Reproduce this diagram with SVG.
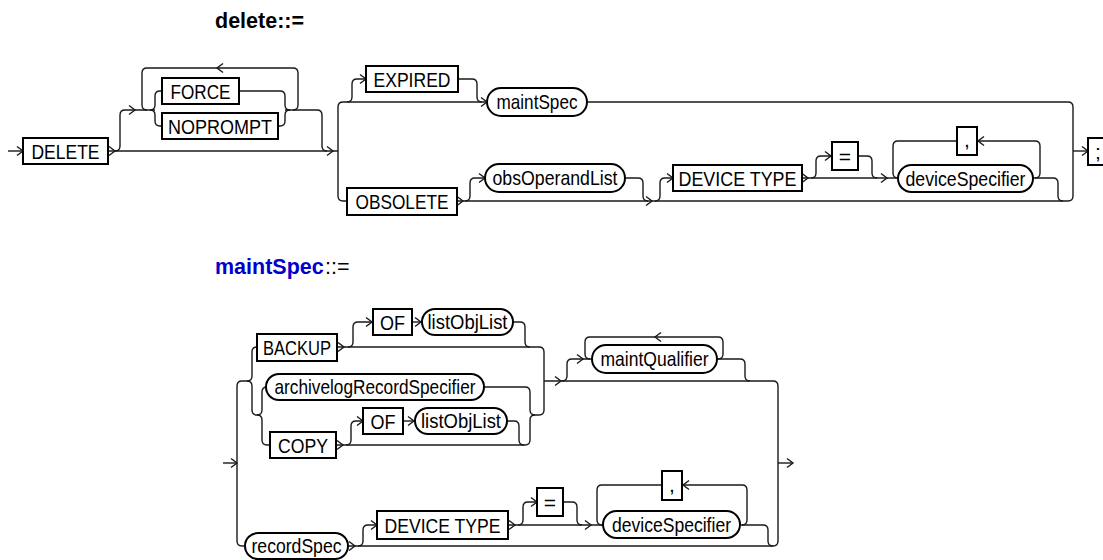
<svg xmlns="http://www.w3.org/2000/svg" width="1103" height="560" viewBox="0 0 1103 560">
<style>
.l{fill:none;stroke:#1a1a1a;stroke-width:1.4}
.b{fill:#fff;stroke:#000;stroke-width:2}
.t{font-family:"Liberation Sans",Arial,Helvetica,sans-serif;font-size:21px;fill:#000;text-anchor:middle}
.h{font-family:"Liberation Sans",Arial,Helvetica,sans-serif;font-size:21.5px;fill:#000}
</style>
<defs>
<path id="ar" d="M-6,-4.5 L0,0 L-6,4.5" fill="none" stroke="#1a1a1a" stroke-width="1.4"/>
<path id="al" d="M6,-4.5 L0,0 L6,4.5" fill="none" stroke="#1a1a1a" stroke-width="1.4"/>
</defs>
<rect width="1103" height="560" fill="#fff"/>

<g id="titles">
<text class="h" x="215" y="28" font-weight="bold">delete::=</text>
<text class="h" x="215" y="274" font-weight="bold" style="fill:#0000cc">maintSpec</text>
<text class="h" x="325" y="274">::=</text>
</g>

<g id="connectors">
<!-- top diagram -->
<path class="l" d="M8,151 H23"/>
<path class="l" d="M108,151 H338"/>
<path class="l" d="M115,151 Q120,151 120,146 V115 Q120,110 125,110 H155"/>
<path class="l" d="M147,110 Q142,110 142,105 V73 Q142,68 147,68 H293 Q298,68 298,73 V105 Q298,110 293,110"/>
<path class="l" d="M150,110 Q155,110 155,105 V96 Q155,91 160,91 H162"/>
<path class="l" d="M150,110 Q155,110 155,115 V121 Q155,126 160,126 H162"/>
<path class="l" d="M239,91 H280 Q285,91 285,96 V105 Q285,110 290,110"/>
<path class="l" d="M278,126 H280 Q285,126 285,121 V115 Q285,110 290,110"/>
<path class="l" d="M285,110 H317 Q322,110 322,115 V146 Q322,151 327,151"/>
<path class="l" d="M338,151 V107 Q338,102 343,102 H487"/>
<path class="l" d="M338,151 V196 Q338,201 343,201 H347"/>
<path class="l" d="M347,102 Q352,102 352,97 V84 Q352,79 357,79 H366"/>
<path class="l" d="M458,79 H472 Q477,79 477,84 V97 Q477,102 482,102"/>
<path class="l" d="M587,102 H1068 Q1073,102 1073,107 V196 Q1073,201 1068,201 H457"/>
<path class="l" d="M465,201 Q470,201 470,196 V183 Q470,178 475,178 H485"/>
<path class="l" d="M625,178 H638 Q643,178 643,183 V196 Q643,201 648,201"/>
<path class="l" d="M655,201 Q660,201 660,196 V183 Q660,178 665,178 H673"/>
<path class="l" d="M802,178 H898"/>
<path class="l" d="M811,178 Q816,178 816,173 V161 Q816,156 821,156 H832"/>
<path class="l" d="M858,156 H867 Q872,156 872,161 V173 Q872,178 877,178"/>
<path class="l" d="M898,178 Q893,178 893,173 V146 Q893,141 898,141 H957"/>
<path class="l" d="M977,141 H1035 Q1040,141 1040,146 V173 Q1040,178 1035,178"/>
<path class="l" d="M1033,178 H1053 Q1058,178 1058,183 V196 Q1058,201 1063,201"/>
<path class="l" d="M1073,151 H1088"/>
<use href="#ar" x="23" y="151"/>
<use href="#ar" x="115" y="151"/>
<use href="#ar" x="135" y="110"/>
<use href="#al" x="217" y="68"/>
<use href="#ar" x="333" y="151"/>
<use href="#ar" x="366" y="79"/>
<use href="#ar" x="487" y="102"/>
<use href="#ar" x="463" y="201"/>
<use href="#ar" x="485" y="178"/>
<use href="#ar" x="652" y="201"/>
<use href="#ar" x="673" y="178"/>
<use href="#ar" x="808" y="178"/>
<use href="#ar" x="831" y="156"/>
<use href="#ar" x="887" y="178"/>
<use href="#al" x="978" y="141"/>
<use href="#ar" x="1088" y="151"/>

<!-- bottom diagram -->
<path class="l" d="M223,463 H237"/>
<path class="l" d="M237,463 V386 Q237,381 242,381 H247"/>
<path class="l" d="M237,463 V541 Q237,546 242,546 H245"/>
<path class="l" d="M247,381 Q252,381 252,376 V352 Q252,347 257,347"/>
<path class="l" d="M247,381 Q252,381 252,386 V410 Q252,415 257,415"/>
<path class="l" d="M257,415 Q262,415 262,410 V392 Q262,387 267,387"/>
<path class="l" d="M257,415 Q262,415 262,420 V440 Q262,445 267,445 H270"/>
<path class="l" d="M337,347 H539 Q544,347 544,352 V410 Q544,415 539,415 H535"/>
<path class="l" d="M348,347 Q353,347 353,342 V327 Q353,322 358,322 H373"/>
<path class="l" d="M412,322 H422"/>
<path class="l" d="M513,322 H520 Q525,322 525,327 V342 Q525,347 530,347"/>
<path class="l" d="M484,387 H525 Q530,387 530,392 V410 Q530,415 535,415"/>
<path class="l" d="M336,445 H525 Q530,445 530,440 V420 Q530,415 535,415"/>
<path class="l" d="M346,445 Q351,445 351,440 V426 Q351,421 356,421 H363"/>
<path class="l" d="M403,421 H415"/>
<path class="l" d="M507,421 H514 Q519,421 519,426 V440 Q519,445 524,445"/>
<path class="l" d="M544,381 H773 Q778,381 778,386 V541 Q778,546 773,546 H348"/>
<path class="l" d="M562,381 Q567,381 567,376 V364 Q567,359 572,359 H592"/>
<path class="l" d="M590,359 Q585,359 585,354 V342 Q585,337 590,337 H718 Q723,337 723,342 V354 Q723,359 718,359"/>
<path class="l" d="M717,359 H740 Q745,359 745,364 V376 Q745,381 750,381"/>
<path class="l" d="M778,463 H793"/>
<path class="l" d="M358,546 Q363,546 363,541 V530 Q363,525 368,525 H377"/>
<path class="l" d="M508,525 H603"/>
<path class="l" d="M518,525 Q523,525 523,520 V507 Q523,502 528,502 H537"/>
<path class="l" d="M563,502 H572 Q577,502 577,507 V520 Q577,525 582,525"/>
<path class="l" d="M602,525 Q597,525 597,520 V490 Q597,485 602,485 H662"/>
<path class="l" d="M682,485 H742 Q747,485 747,490 V520 Q747,525 742,525"/>
<path class="l" d="M740,525 H763 Q768,525 768,530 V541 Q768,546 773,546"/>
<use href="#ar" x="237" y="463"/>
<use href="#ar" x="344" y="347"/>
<use href="#ar" x="372" y="322"/>
<use href="#ar" x="421" y="322"/>
<use href="#ar" x="343" y="445"/>
<use href="#ar" x="363" y="421"/>
<use href="#ar" x="414" y="421"/>
<use href="#ar" x="561" y="381"/>
<use href="#ar" x="583" y="359"/>
<use href="#al" x="655" y="337"/>
<use href="#ar" x="793" y="463"/>
<use href="#ar" x="355" y="546"/>
<use href="#ar" x="377" y="525"/>
<use href="#ar" x="515" y="525"/>
<use href="#ar" x="537" y="502"/>
<use href="#ar" x="591" y="525"/>
<use href="#al" x="683" y="485"/>
</g>

<!-- top nodes -->
<g id="n-delete"><rect class="b" x="23" y="138" width="85" height="26"/><text class="t" x="65.5" y="158.5" textLength="68" lengthAdjust="spacingAndGlyphs">DELETE</text></g>
<g id="n-force"><rect class="b" x="162" y="78" width="77" height="26"/><text class="t" x="200.5" y="98.5" textLength="60" lengthAdjust="spacingAndGlyphs">FORCE</text></g>
<g id="n-noprompt"><rect class="b" x="162" y="113" width="116" height="26"/><text class="t" x="220" y="133.5" textLength="104" lengthAdjust="spacingAndGlyphs">NOPROMPT</text></g>
<g id="n-expired"><rect class="b" x="366" y="66" width="92" height="26"/><text class="t" x="412" y="86.5" textLength="77" lengthAdjust="spacingAndGlyphs">EXPIRED</text></g>
<g id="n-maintspec"><rect class="b" x="487" y="88" width="100" height="28" rx="14"/><text class="t" x="537" y="109" textLength="81" lengthAdjust="spacingAndGlyphs">maintSpec</text></g>
<g id="n-obsolete"><rect class="b" x="347" y="188" width="110" height="27"/><text class="t" x="402" y="209" textLength="93" lengthAdjust="spacingAndGlyphs">OBSOLETE</text></g>
<g id="n-obsoperandlist"><rect class="b" x="485" y="164" width="140" height="28" rx="14"/><text class="t" x="555" y="185" textLength="125" lengthAdjust="spacingAndGlyphs">obsOperandList</text></g>
<g id="n-devicetype1"><rect class="b" x="673" y="165" width="129" height="26"/><text class="t" x="737.5" y="185.5" textLength="118" lengthAdjust="spacingAndGlyphs">DEVICE TYPE</text></g>
<g id="n-eq1"><rect class="b" x="832" y="142" width="26" height="28"/><text class="t" x="845" y="163.5">=</text></g>
<g id="n-devicespecifier1"><rect class="b" x="898" y="165" width="135" height="27" rx="13.5"/><text class="t" x="965.5" y="185.5" textLength="120" lengthAdjust="spacingAndGlyphs">deviceSpecifier</text></g>
<g id="n-comma1"><rect class="b" x="957" y="127" width="20" height="28"/><text class="t" x="967" y="147">,</text></g>
<g id="n-semicolon"><rect class="b" x="1088" y="138" width="22" height="27"/><text class="t" x="1098" y="158.5">;</text></g>

<!-- bottom nodes -->
<g id="n-backup"><rect class="b" x="257" y="334" width="80" height="27"/><text class="t" x="297" y="355" textLength="68" lengthAdjust="spacingAndGlyphs">BACKUP</text></g>
<g id="n-of1"><rect class="b" x="373" y="309" width="39" height="26"/><text class="t" x="392.5" y="329.5" textLength="25" lengthAdjust="spacingAndGlyphs">OF</text></g>
<g id="n-listobjlist1"><rect class="b" x="422" y="309" width="91" height="26" rx="13"/><text class="t" x="467.5" y="329" textLength="80" lengthAdjust="spacingAndGlyphs">listObjList</text></g>
<g id="n-archivelog"><rect class="b" x="266" y="374" width="218" height="26" rx="13"/><text class="t" x="375" y="394" textLength="201" lengthAdjust="spacingAndGlyphs">archivelogRecordSpecifier</text></g>
<g id="n-copy"><rect class="b" x="270" y="432" width="66" height="26"/><text class="t" x="303" y="452.5" textLength="50" lengthAdjust="spacingAndGlyphs">COPY</text></g>
<g id="n-of2"><rect class="b" x="363" y="408" width="40" height="26"/><text class="t" x="383" y="428.5" textLength="25" lengthAdjust="spacingAndGlyphs">OF</text></g>
<g id="n-listobjlist2"><rect class="b" x="415" y="408" width="92" height="26" rx="13"/><text class="t" x="461" y="428" textLength="80" lengthAdjust="spacingAndGlyphs">listObjList</text></g>
<g id="n-maintqualifier"><rect class="b" x="592" y="345" width="125" height="28" rx="14"/><text class="t" x="654.5" y="366" textLength="108" lengthAdjust="spacingAndGlyphs">maintQualifier</text></g>
<g id="n-recordspec"><rect class="b" x="245" y="533" width="103" height="26" rx="13"/><text class="t" x="296.5" y="553" textLength="90" lengthAdjust="spacingAndGlyphs">recordSpec</text></g>
<g id="n-devicetype2"><rect class="b" x="377" y="511" width="131" height="28"/><text class="t" x="442.5" y="532.5" textLength="116" lengthAdjust="spacingAndGlyphs">DEVICE TYPE</text></g>
<g id="n-eq2"><rect class="b" x="537" y="488" width="26" height="28"/><text class="t" x="550" y="509.5">=</text></g>
<g id="n-devicespecifier2"><rect class="b" x="603" y="511" width="137" height="27" rx="13.5"/><text class="t" x="671.5" y="531.5" textLength="119" lengthAdjust="spacingAndGlyphs">deviceSpecifier</text></g>
<g id="n-comma2"><rect class="b" x="662" y="471" width="20" height="29"/><text class="t" x="672" y="492">,</text></g>
</svg>
